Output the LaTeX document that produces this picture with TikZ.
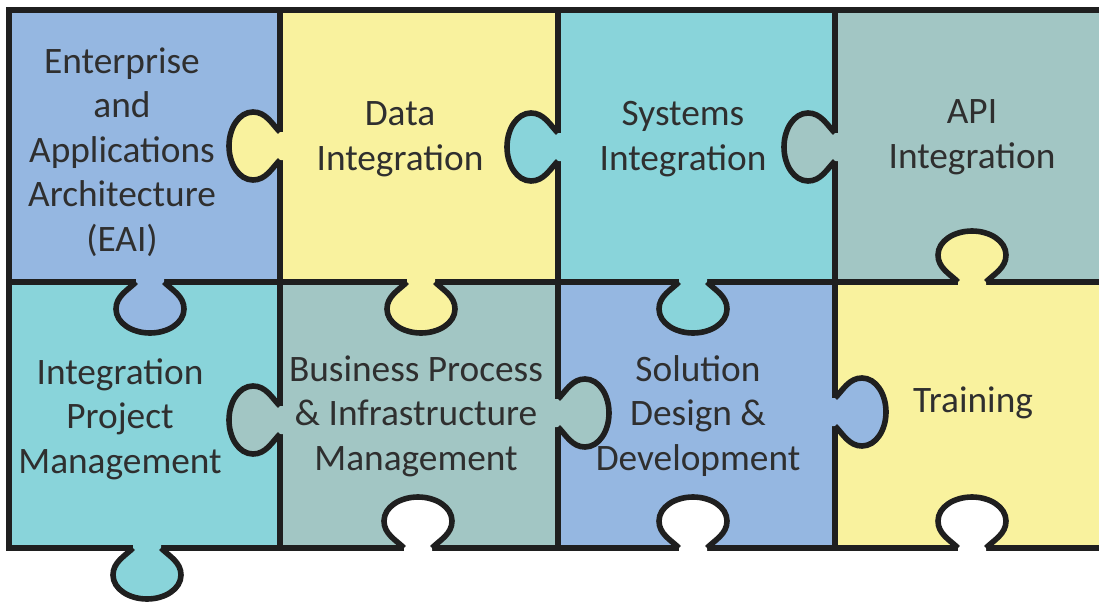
\documentclass[tikz,border=0pt]{standalone}
\usepackage{fontspec}
\setmainfont{Carlito}
\definecolor{pieceblue}{HTML}{95B7E1}
\definecolor{pieceyellow}{HTML}{F9F29E}
\definecolor{pieceteal}{HTML}{89D4DA}
\definecolor{piecegrey}{HTML}{A2C6C4}
\definecolor{inktext}{HTML}{2F2F2F}
\tikzstyle{pieceline} = [line width=4.2pt, draw=black!88, line join=round]
\tikzstyle{piecetext} = [text=inktext, align=center, inner sep=0pt, font=\fontsize{28}{33.4}\selectfont]
\tikzset{knob/.pic={
        \fill[pic actions] (-14,-4) -- (-14,0) .. controls (-22,8) and (-34,14) .. (-34,27) .. controls (-34,41) and (-18,51) .. (0,51) .. controls (18,51) and (34,41) .. (34,27) .. controls (34,14) and (22,8) .. (14,0) -- (14,-4) -- cycle;
        \draw[pieceline] (-14,0) .. controls (-22,8) and (-34,14) .. (-34,27) .. controls (-34,41) and (-18,51) .. (0,51) .. controls (18,51) and (34,41) .. (34,27) .. controls (34,14) and (22,8) .. (14,0);
    }
}

\begin{document}
\begin{tikzpicture}[x=0.75pt, y=-0.75pt]
                \useasboundingbox (0,0) rectangle (1099,603);
                \foreach \x/\y/\X/\Y/\c in {9/10/280/282/pieceblue, 280/10/558/282/pieceyellow, 558/10/835/282/pieceteal, 835/10/1105/282/piecegrey,
                        9/282/280/548/pieceteal, 280/282/558/548/piecegrey, 558/282/835/548/pieceblue, 835/282/1105/548/pieceyellow}
                    \fill[\c] (\x,\y) rectangle (\X,\Y);

                \draw[pieceline, line join=miter] (1105,10) -- (9,10) -- (9,548) -- (1105,548);
                \draw[pieceline] (9,282) -- (1105,282);
                \foreach \x in {280,558,835}
                    \draw[pieceline] (\x,10) -- (\x,548);

                \foreach \x/\y/\a/\c in {280/146/-90/pieceyellow, 558/147/-90/pieceteal, 835/147/-90/piecegrey,
                        150/282/0/pieceblue, 421/282/0/pieceyellow, 693/282/0/pieceteal, 972/282/180/pieceyellow,
                        280/420/-90/piecegrey, 558/413/90/piecegrey, 835/412/90/pieceblue,
                        147/548/0/pieceteal, 418/548/180/white, 693/548/180/white, 972/548/180/white}
                    \pic[fill=\c, rotate=\a] at (\x,\y) {knob};

                \node (eai) [piecetext] at (122,152) {Enterprise\\and\\Applications\\Architecture\\(EAI)};
                \node (data) [piecetext] at (400,139) {Data\\Integration};
                \node (systems) [piecetext] at (683,139) {Systems\\Integration};
                \node (api) [piecetext] at (972,137) {API\\Integration};
                \node (project) [piecetext] at (120,419) {Integration\\Project\\Management};
                \node (process) [piecetext] at (416,416) {Business Process\\\& Infrastructure\\Management};
                \node (solution) [piecetext] at (698,416) {Solution\\Design \&\\Development};
                \node (training) [piecetext] at (973,403) {Training};
            \end{tikzpicture}
\end{document}
